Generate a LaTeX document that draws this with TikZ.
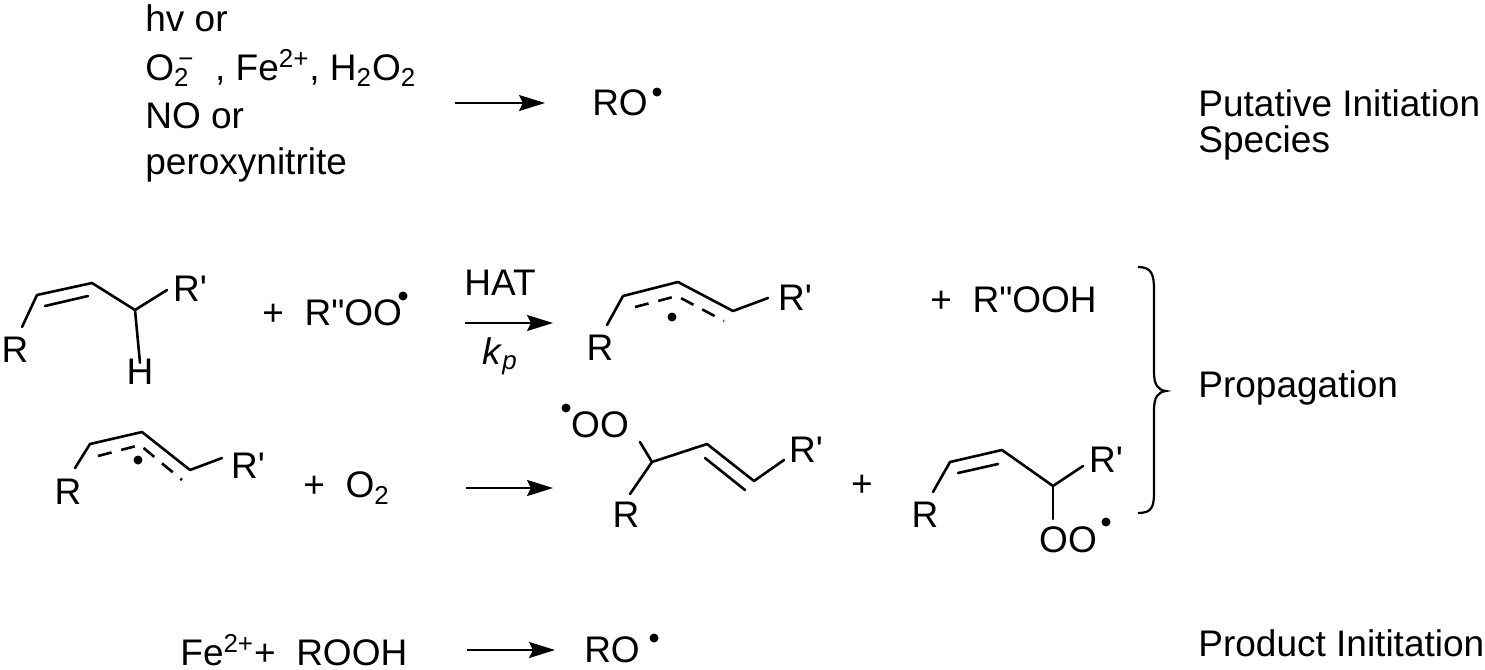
\documentclass[tikz,border=0pt]{standalone}
\usepackage{fontspec}
\setmainfont{Liberation Sans}[Ligatures=TeXOff]
\usetikzlibrary{arrows.meta,decorations.pathreplacing}
\newcommand{\pr}{\symbol{39}}
\newcommand{\dpr}{\symbol{34}}
\begin{document}
\begin{tikzpicture}[x=0.5pt,y=-0.5pt,
  lbl/.style={font=\fontsize{18.5}{23}\selectfont,inner sep=0pt},
  lft/.style={lbl,anchor=west},
  bond/.style={line width=1.3pt,line cap=round,line join=round},
  dbond/.style={line width=1.3pt,dash pattern=on 7pt off 5pt},
  rxn/.style={line width=1.1pt,-{Stealth[length=13pt,width=8pt,inset=2pt]}},
  rad/.style={circle,fill,inner sep=0pt,minimum size=4.5pt}]
\useasboundingbox (0,0) rectangle (1485,670);
% ---- top
\node[lft] (t1) at (145,18) {hv or};
\node[lft] (t2) at (145,68) {O\rlap{\textsubscript{2}}\textsuperscript{\,−}\ \ , Fe\textsuperscript{2+}, H\textsubscript{2}O\textsubscript{2}};
\node[lft] (t3) at (145,116) {NO or};
\node[lft] (t4) at (145,165) {peroxynitrite};
\coordinate (a1s) at (455,103); \coordinate (a1e) at (545,103);
\draw[rxn] (a1s) -- (a1e);
\node[lbl] (ro1) at (620,103) {RO};
\node[rad] (ro1d) at (657,92) {};
\node[lft] (pis1) at (1198,103) {Putative Initiation};
\node[lft] (pis2) at (1198,143) {Species};
% ---- mol1
\node[lbl] (m1R) at (15,350) {R};
\node[lbl] (m1Rp) at (190,289) {R\pr};
\node[lbl] (m1H) at (140,372) {H};
\coordinate (m1a) at (37,295); \coordinate (m1b) at (92,283);
\coordinate (m1c) at (135,310);
\draw[bond] (22,327) -- (m1a) -- (m1b) -- (m1c) -- (167,290);
\draw[bond] (m1c) -- ([yshift=-2pt]m1H.north);
\draw[bond] (45,306) -- (88,296);
\node[lft] (roo) at (262,313) {+\ \ R\dpr OO};
\node[rad] (rood) at (403,296) {};
\coordinate (a2s) at (465,323); \coordinate (a2e) at (553,323);
\draw[rxn] (a2s) -- (a2e);
\node[lbl] (hat) at (500,283) {HAT};
\node[lbl] (kp) at (500,356) {\textit{k}\textsubscript{\textit{p}}};
% ---- mol2
\node[lbl] (m2R) at (600,348) {R};
\node[lbl] (m2Rp) at (795,298) {R\pr};
\coordinate (m2a) at (623,296); \coordinate (m2b) at (678,282);
\coordinate (m2c) at (733,311);
\draw[bond] (607,325) -- (m2a) -- (m2b) -- (m2c) -- (768,298);
\draw[dbond] (635,307) -- (677,296) -- (724,321);
\node[rad] (m2d) at (672,317) {};
\node[lft] (rooh) at (930,300) {+\ \ R\dpr OOH};
% brace
\draw[line width=1.1pt] (1138,267) .. controls (1152,267) and (1154,275) .. (1154,290)
  -- (1154,372) .. controls (1154,385) and (1158,390) .. (1166,391)
  .. controls (1158,392) and (1154,397) .. (1154,410)
  -- (1154,492) .. controls (1154,507) and (1152,513) .. (1138,513);
\node[lft] (prop) at (1198,388) {Propagation};
% ---- mol3
\node[lbl] (m3R) at (68,492) {R};
\node[lbl] (m3Rp) at (248,466) {R\pr};
\coordinate (m3a) at (90,444); \coordinate (m3b) at (142,432);
\coordinate (m3c) at (190,470);
\draw[bond] (75,468) -- (m3a) -- (m3b) -- (m3c) -- (222,458);
\draw[dbond] (98,456) -- (140,445) -- (182,480);
\node[rad] (m3d) at (138,460) {};
\node[lft] (o2) at (303,488) {+\ \ O\textsubscript{2}};
\coordinate (a3s) at (466,488); \coordinate (a3e) at (553,488);
\draw[rxn] (a3s) -- (a3e);
% ---- mol4
\node[rad] (m4d) at (566,408) {};
\node[lbl] (m4O) at (600,425) {OO};
\node[lbl] (m4R) at (626,515) {R};
\node[lbl] (m4Rp) at (806,450) {R\pr};
\coordinate (m4c) at (652,462); \coordinate (m4b) at (707,444);
\coordinate (m4e) at (754,481);
\draw[bond] (640,442) -- (m4c) -- (m4b) -- (m4e) -- (784,460);
\draw[bond] (m4c) -- (630,494);
\draw[bond] (705,458) -- (745,490);
\node[lbl] (p4) at (862,486) {+};
% ---- mol5
\node[lbl] (m5R) at (925,515) {R};
\node[lbl] (m5Rp) at (1106,460) {R\pr};
\node[lbl] (m5O) at (1068,540) {OO};
\node[rad] (m5d) at (1106,522) {};
\coordinate (m5a) at (950,462); \coordinate (m5b) at (1002,450);
\coordinate (m5c) at (1053,486);
\draw[bond] (933,492) -- (m5a) -- (m5b) -- (m5c) -- (1083,466);
\draw[bond] (m5c) -- (1053,519);
\draw[bond] (958,473) -- (998,464);
% ---- bottom
\node[lft] (fe) at (180,650) {Fe\textsuperscript{2+}+\ \ ROOH};
\coordinate (a4s) at (467,650); \coordinate (a4e) at (555,650);
\draw[rxn] (a4s) -- (a4e);
\node[lbl] (ro2) at (612,650) {RO};
\node[rad] (ro2d) at (654,638) {};
\node[lft] (pin) at (1198,643) {Product Inititation};
\end{tikzpicture}
\end{document}
